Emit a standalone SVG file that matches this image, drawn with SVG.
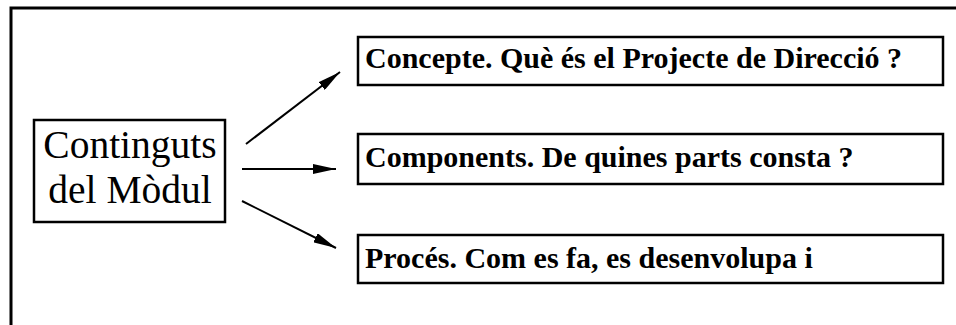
<svg xmlns="http://www.w3.org/2000/svg" width="956" height="325" viewBox="0 0 956 325">
<style>
.box{fill:#fff;stroke:#000;stroke-width:2.5}
.t{font-family:"Liberation Serif","Times New Roman",serif;fill:#000}
.b{font-weight:bold;font-size:30px}
.big{font-size:39.5px}
.c{stroke:#000;stroke-width:2;fill:none}
</style>
<defs>
<marker id="ah" viewBox="0 0 23 10" refX="23" refY="5" markerWidth="23" markerHeight="10" markerUnits="userSpaceOnUse" orient="auto">
<path d="M0,0 L23,5 L0,10 Z" fill="#000"/>
</marker>
</defs>
<rect width="956" height="325" fill="#fff"/>
<path d="M11,340 L11,8 L960,8" fill="none" stroke="#000" stroke-width="3"/>
<g id="connectors">
<line class="c" x1="246" y1="144" x2="340" y2="72" marker-end="url(#ah)"/>
<line class="c" x1="242" y1="169" x2="336" y2="169" marker-end="url(#ah)"/>
<line class="c" x1="242" y1="201" x2="336" y2="248" marker-end="url(#ah)"/>
</g>
<g id="n0">
<rect class="box" x="34" y="120" width="191" height="102"/>
<text class="t big" x="130" y="158" text-anchor="middle">Continguts</text>
<text class="t big" x="130" y="203" text-anchor="middle">del Mòdul</text>
</g>
<g id="n1">
<rect class="box" x="358" y="37" width="585" height="48"/>
<text class="t b" x="365" y="68">Concepte. Què és el Projecte de Direcció ?</text>
</g>
<g id="n2">
<rect class="box" x="358" y="134" width="585" height="50"/>
<text class="t b" x="365" y="167">Components. De quines parts consta ?</text>
</g>
<g id="n3">
<rect class="box" x="358" y="235" width="585" height="48"/>
<text class="t b" x="365" y="268">Procés. Com es fa, es desenvolupa i</text>
</g>
</svg>
